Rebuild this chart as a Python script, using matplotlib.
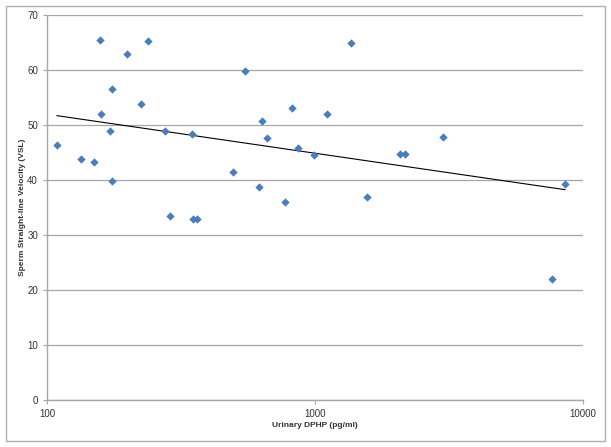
import numpy as np
import matplotlib
matplotlib.use("Agg")
import matplotlib.pyplot as plt
from matplotlib.patches import Rectangle
from matplotlib.ticker import FixedLocator, NullLocator

# Urinary DPHP (pg/ml) vs sperm straight-line velocity (VSL)
dphp = [109, 134, 150, 158, 159, 172, 175, 175, 199, 224, 238, 275, 288, 348,
        352, 363, 494, 548, 618, 634, 662, 773, 820, 864, 991, 1109, 1361,
        1563, 2075, 2167, 3004, 7664, 8570]
vsl = [46.4, 43.8, 43.3, 65.5, 52.0, 48.9, 39.8, 56.5, 62.9, 53.8, 65.3, 48.9,
       33.5, 48.4, 32.9, 32.9, 41.5, 59.8, 38.7, 50.7, 47.6, 36.0, 53.1, 45.9,
       44.5, 52.0, 64.9, 36.9, 44.7, 44.7, 47.8, 22.0, 39.3]

x = np.array(dphp, dtype=float)
y = np.array(vsl)

# logarithmic trendline, like Excel
slope, intercept = np.polyfit(np.log10(x), y, 1)
xt = np.array([x.min(), x.max()])
yt = slope * np.log10(xt) + intercept

plt.rcParams['font.family'] = ['Liberation Sans', 'DejaVu Sans']

fig = plt.figure(figsize=(6.11, 4.47), dpi=100)
fig.patches.append(Rectangle((6 / 611, 6 / 447), 599 / 611, 435 / 447,
                             transform=fig.transFigure, fill=False,
                             edgecolor='#b0b0b0', linewidth=1.0))
ax = fig.add_axes([47 / 611, 1 - 400 / 447, 536 / 611, 385 / 447])

ax.scatter(x, y, marker='D', s=18, color='#4a7ebb', zorder=3, linewidths=0)
ax.plot(xt, yt, color='black', linewidth=0.8, zorder=2)

ax.set_xscale('log')
ax.set_xlim(100, 10000)
ax.set_ylim(0, 70)
ax.xaxis.set_major_locator(FixedLocator([100, 1000, 10000]))
ax.xaxis.set_minor_locator(NullLocator())
ax.set_xticklabels(['100', '1000', '10000'])
ax.set_yticks(range(0, 71, 10))

ax.grid(axis='y', color='#a6a6a6', linewidth=0.9)
ax.set_axisbelow(True)
for side in ['top', 'right']:
    ax.spines[side].set_visible(False)
for side in ['left', 'bottom']:
    ax.spines[side].set_color('#a6a6a6')
    ax.spines[side].set_linewidth(1.0)
ax.tick_params(axis='both', colors='#a6a6a6', labelcolor='#333333',
               labelsize=7, length=3)

ax.set_xlabel('Urinary DPHP (pg/ml)', fontsize=6, fontweight='bold',
              color='#333333', labelpad=2)
ax.set_ylabel('Sperm Straight-line Velocity (VSL)', fontsize=6,
              fontweight='bold', color='#333333')
ax.yaxis.set_label_coords(-21 / 536, 0.5)

fig.savefig('out.png', dpi=100)
